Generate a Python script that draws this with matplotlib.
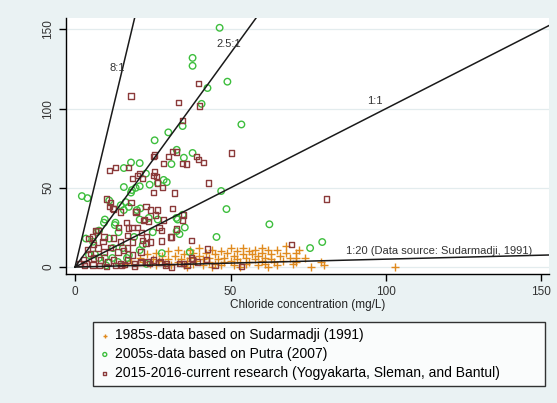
import numpy as np
import matplotlib
matplotlib.use("Agg")
import matplotlib.pyplot as plt

plt.rcParams['font.family'] = ['Liberation Sans', 'DejaVu Sans']

# 1985s data (Sudarmadji 1991)
orange_x = [16, 18, 20, 21, 22, 23, 24, 25, 26, 26, 27, 28, 29, 30, 30, 31, 32, 33, 33, 34,
            35, 35, 36, 37, 37, 38, 38, 39, 40, 40, 41, 41, 42, 43, 43, 44, 45, 45, 46, 47,
            47, 48, 48, 49, 50, 50, 51, 51, 52, 52, 53, 54, 54, 55, 55, 56, 56, 57, 58, 58,
            59, 59, 60, 60, 60, 61, 61, 62, 63, 63, 64, 65, 65, 66, 67, 68, 68, 69, 70, 71,
            71, 71, 72, 74, 76, 79, 80, 103, 44, 36, 53, 62]
orange_y = [2, 4, 1, 6, 3, 8, 2, 5, 1, 9, 4, 7, 2, 10, 5, 1, 7, 3, 11, 5,
            8, 1, 4, 11, 6, 2, 9, 4, 7, 12, 1, 5, 9, 3, 6, 11, 2, 8, 5, 10,
            1, 6, 3, 9, 12, 4, 7, 1, 10, 5, 3, 8, 12, 2, 6, 10, 3, 8, 5, 11,
            1, 7, 12, 4, 9, 6, 2, 11, 5, 8, 3, 11, 1, 7, 4, 13, 9, 6, 2, 9,
            3, 6, 11, 6, 0, 3, 1, 0, 0, 0, 0, 0]

# 2005s data (Putra 2007)
green_x = [46.5, 37.8, 37.8, 49, 42.6, 40.7, 53.5, 34.6, 30, 25.6, 32.7, 37.8, 35, 20.8, 18, 15.7,
           22.8, 31, 29.5, 28.5, 20.8, 19.5, 18.3, 15.7, 18, 24, 26.6, 47, 48.7, 2.2, 4, 11,
           14.7, 17.3, 16.3, 9.6, 12.8, 7, 15.7, 19.9, 21, 20.8, 26.6, 23.7, 33, 32.6, 34.6, 35.3,
           32.7, 33.6, 45.5, 36.9, 62.5, 75.6, 79.5, 27.9, 13, 7.7, 9.3, 11, 5.8, 3.5, 14, 15.4,
           17.3, 12, 19, 21.8, 25, 7.7, 4.5, 6.4, 9.6, 13.8, 16.7, 12.2, 20.8, 10, 23]
green_y = [151, 132, 127, 117, 113, 103, 90, 89, 85, 80, 74, 72, 69, 65.6, 66, 62.5,
           59, 65, 53.6, 55, 51, 50, 48.6, 50.5, 47, 52, 53, 48, 36.6, 44.8, 43.5, 42,
           39, 38, 41, 30, 26.5, 22, 36, 36, 37, 30, 30, 31, 30, 31, 33, 25,
           22.7, 20.8, 19, 9.5, 27, 12, 15.8, 8.8, 28, 23, 28, 18, 16, 18, 22, 12,
           7.5, 5.7, 19, 14, 22, 5.7, 7.6, 8, 5.7, 3.2, 5.7, 12, 10.7, 1, 2]

# 2015-2016 current research
maroon_x = [18, 39.7, 33.3, 40, 34.6, 25.6, 30, 31.4, 32.7, 28.5, 34.6, 35.9, 39, 39.7, 41.3, 50.3,
            11.2, 13, 17.3, 18.5, 20.8, 21.8, 25.6, 26.2, 26.6, 25.3, 28.2, 32, 43, 10, 12.2, 18,
            19.6, 26.6, 22.4, 23.7, 31.4, 35, 34.6, 32.7, 30.8, 37.5, 5.5, 6.7, 18.3, 21.5, 23, 22.8,
            17, 53.5, 28.5, 27.9, 31, 27.9, 42.6, 37.8, 35, 31, 80.8, 69.6, 25.3, 20, 25.3, 11.5,
            22.8, 11, 12.5, 14.7, 19.6, 22, 24.4, 26, 27, 7.4, 4.5, 9.3, 12.5, 14.7, 18.6, 21.8,
            24.4, 7.4, 9.3, 11.5, 13.8, 15.7, 18.6, 21.2, 6, 8.3, 10.6, 12.5, 14.7, 17, 19, 21.2,
            23.4, 25.3, 27.6, 5, 3.5, 5.8, 2.6, 17, 17.3, 20, 14, 21, 24, 27, 29.5, 33.7,
            37.5, 39.4, 42.3, 8, 10, 13, 16, 3, 1.5, 6, 9, 4, 15, 19, 29, 45, 36, 16.5]
maroon_y = [108, 116, 104, 101.6, 92.7, 70.7, 70, 73, 72.6, 65.6, 65.6, 65, 70, 68, 66, 72,
            61, 63, 63, 56, 59, 56, 60, 57, 53, 47.3, 50, 46.7, 53, 43, 37, 41,
            35.3, 36, 30, 29, 37, 32.8, 29.7, 24, 19, 17, 19, 23, 25, 22, 19, 15,
            12, 0.5, 29.7, 23.3, 19, 16.4, 11.4, 5, 2, 0, 43, 14, 69.6, 58, 58, 41,
            38, 38, 36.6, 34.7, 34.7, 29.6, 36, 32.8, 25, 23, 18, 19, 18.3, 15.8, 15.8, 17,
            15.8, 12, 9.5, 12.6, 9.5, 10.7, 7.6, 9.5, 5.7, 4.4, 3.2, 4.4, 2.5, 4.4, 2.5, 3.2,
            3.2, 4.4, 3.2, 8.8, 2.5, 1.3, 4.4, 20, 24.6, 25, 25, 3, 2.5, 3, 2.5, 2.5,
            5.7, 3.2, 5, 1, 0.5, 0.8, 1.5, 1, 2, 14, 16, 11, 1, 0.5, 1, 1, 1, 28]

# reference lines as drawn in the source figure
ratio_slopes = [8.2, 2.7, 1, 1 / 20]
ratio_labels = ["8:1", "2.5:1", "1:1", "1:20 (Data source: Sudarmadji, 1991)"]
label_pos = [(11, 124), (45.5, 139), (94, 103), (87, 8)]

series_labels = ["1985s-data based on Sudarmadji (1991)",
                 "2005s-data based on Putra (2007)",
                 "2015-2016-current research (Yogyakarta, Sleman, and Bantul)"]

bg = "#EAF2F3"
fig = plt.figure(figsize=(5.57, 4.03), dpi=100, facecolor=bg)
ax = fig.add_axes([0.1185, 0.32, 0.867, 0.635])
ax.set_facecolor("white")

xmin, xmax = -2.9, 152.4
ymin, ymax = -4.4, 157.1

ax.scatter(orange_x, orange_y, marker="+", s=28, color="#E08A1E", linewidths=1.0,
           label=series_labels[0], zorder=2)
ax.scatter(green_x, green_y, marker="o", s=22, facecolors="none", edgecolors="#3DBE3D",
           linewidths=1.0, label=series_labels[1], zorder=3)
ax.scatter(maroon_x, maroon_y, marker="s", s=14, facecolors="none", edgecolors="#8B3A3A",
           linewidths=1.0, label=series_labels[2], zorder=4)

for s, lab, (tx, ty) in zip(ratio_slopes, ratio_labels, label_pos):
    xe = min(xmax, ymax / s)
    ax.plot([0, xe], [0, s * xe], color="#1a1a1a", lw=1.1, zorder=5)
    ax.text(tx, ty, lab, fontsize=8, color="#333333", zorder=6)

ax.set_xlim(xmin, xmax)
ax.set_ylim(ymin, ymax)
ax.set_xticks([0, 50, 100, 150])
ax.set_yticks([0, 50, 100, 150])
ax.yaxis.grid(True, color="#E3ECEE", lw=0.9)
ax.set_axisbelow(True)
for sp in ["top", "right"]:
    ax.spines[sp].set_visible(False)
for sp in ["left", "bottom"]:
    ax.spines[sp].set_color("black")
    ax.spines[sp].set_linewidth(1.0)
ax.tick_params(axis="both", direction="out", length=5, width=1, labelsize=8.5,
               colors="black", labelcolor="#333333")
plt.setp(ax.get_yticklabels(), rotation=90, va="center")
ax.set_xlabel("Chloride concentration (mg/L)", fontsize=8.5, labelpad=1, color="#222222")

x0, y1 = 93 / 557, 1 - 322 / 403
w, h = (545 - 93) / 557, (387 - 322) / 403
leg = ax.legend(loc="upper left", bbox_to_anchor=(x0, y1 - h, w, h), mode="expand",
                bbox_transform=fig.transFigure, fontsize=10, frameon=True, fancybox=False,
                edgecolor="black", markerscale=0.6, handletextpad=0.3, borderpad=0.45,
                labelspacing=0.35, handlelength=0.8, borderaxespad=0)
leg.get_frame().set_linewidth(1.0)

fig.savefig("out.png", dpi=100, facecolor=fig.get_facecolor())
